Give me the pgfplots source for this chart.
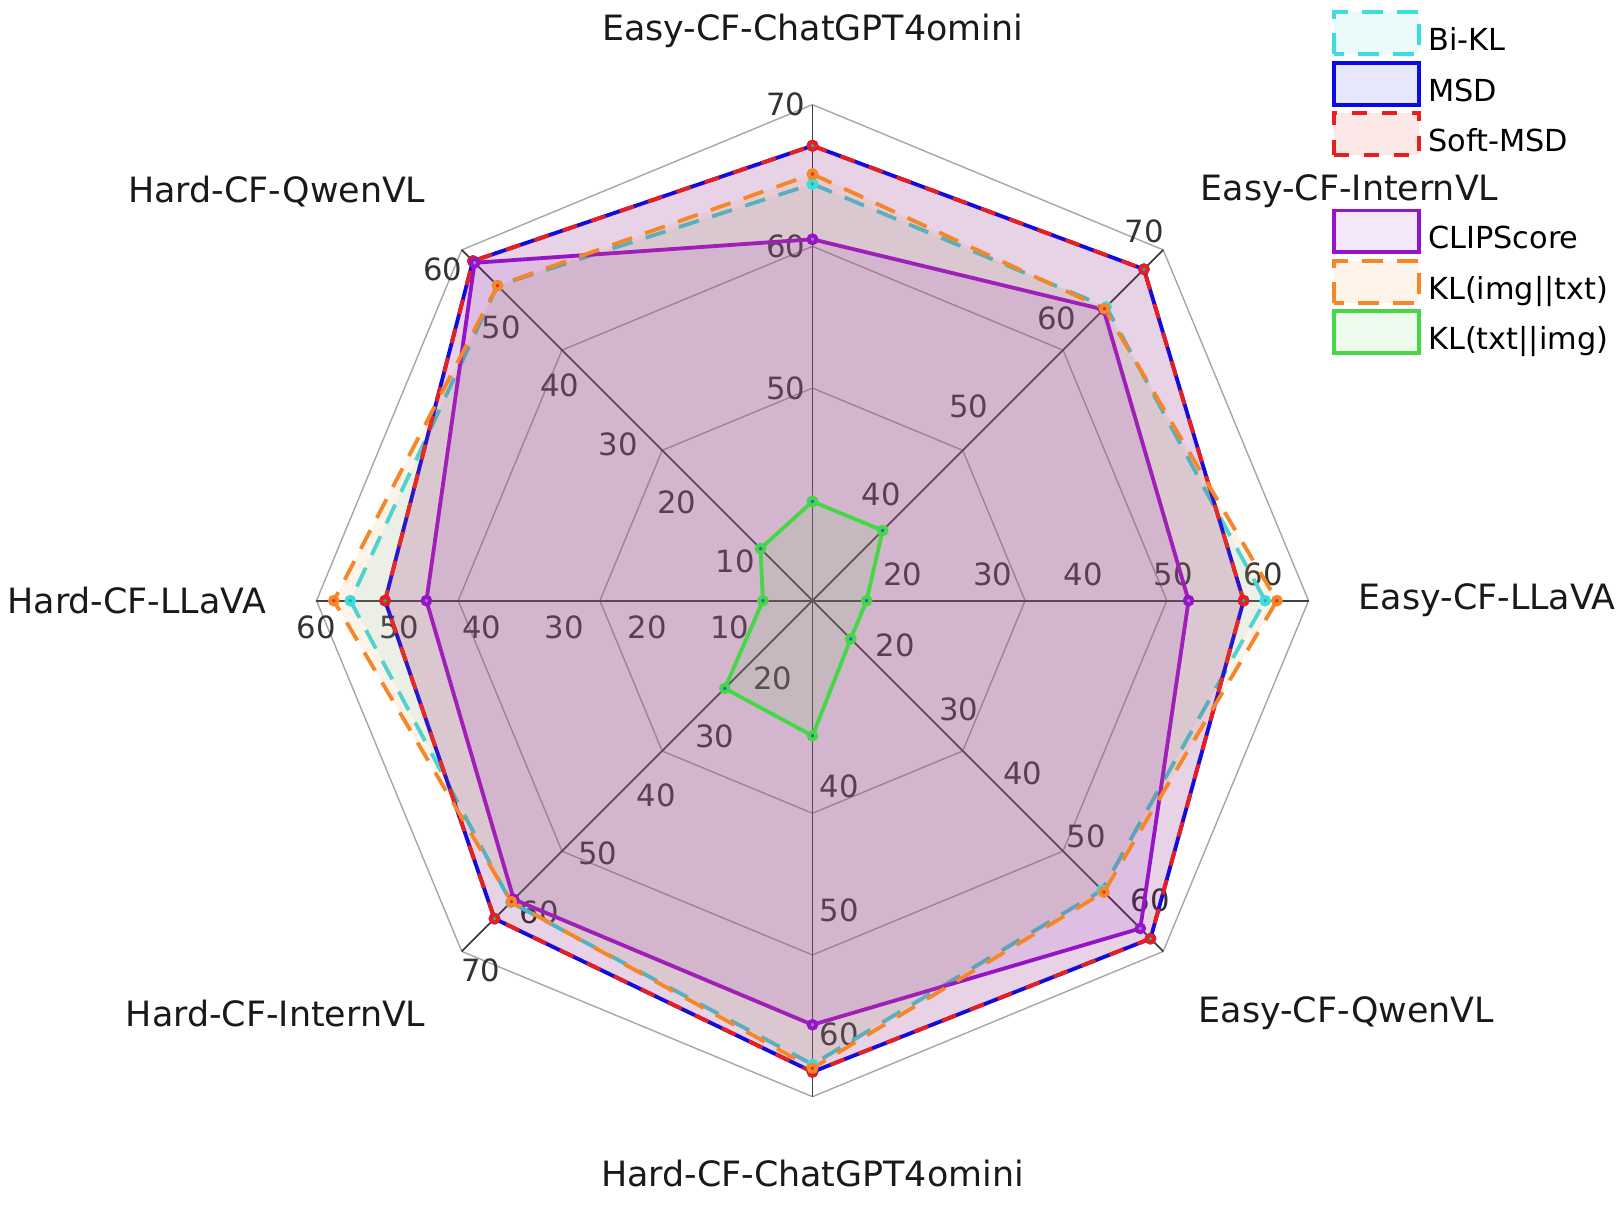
\documentclass[border=0pt]{standalone}
\usepackage{fontspec}
\setmainfont{DejaVu Sans}
\usepackage{pgfplots}
\usepackage{pgfplotstable}
\pgfplotsset{compat=1.18}

\definecolor{cBikl}{RGB}{60,220,225}
\definecolor{cMsd}{RGB}{10,10,230}
\definecolor{cSmsd}{RGB}{235,30,30}
\definecolor{cClip}{RGB}{150,20,200}
\definecolor{cKli}{RGB}{245,135,40}
\definecolor{cKlt}{RGB}{70,215,70}
\definecolor{mBikl}{RGB}{60,175,110}
\definecolor{mMsd}{RGB}{30,175,165}
\definecolor{mClip}{RGB}{160,120,220}
\definecolor{mKli}{RGB}{230,40,40}
\definecolor{mKlt}{RGB}{40,90,230}

% one row per spoke: angle, value at centre, value at rim, then the six methods
\pgfplotstableread{
ang  lo hi bikl msd  smsd clip kli  klt
90   35 70 64.4 67.1 67.1 60.5 65.1 42.0
45   30 70 63.5 67.8 67.8 63.2 63.3 38.0
0    10 65 60.2 57.8 57.8 51.7 61.5 16.0
-45  10 65 55.4 63.0 63.0 61.4 55.7 16.0
-90  25 65 62.4 63.0 63.0 59.2 62.7 35.9
-135 10 70 61.6 64.4 64.4 61.1 61.5 25.0
180  0  60 55.9 51.7 51.7 46.7 57.9 6.0
135  0  60 53.9 58.1 58.1 57.8 53.9 8.9
90   35 70 64.4 67.1 67.1 60.5 65.1 42.0
}\radar

\newcommand{\rx}[1]{cos(\thisrow{ang})*(\thisrow{#1}-\thisrow{lo})/(\thisrow{hi}-\thisrow{lo})}
\newcommand{\ry}[1]{sin(\thisrow{ang})*(\thisrow{#1}-\thisrow{lo})/(\thisrow{hi}-\thisrow{lo})}
% tick label: angle, lo, hi, value
\newcommand{\tl}[4]{\node[ticklab] at (axis cs:{(#4-#2)/(#3-#2)*cos(#1)+0.054*cos(#1+90)},{(#4-#2)/(#3-#2)*sin(#1)+0.054*sin(#1+90)}) {#4};}

\tikzset{
  ticklab/.style={inner sep=0pt, text=black!80, font=\fontsize{8.8}{10}\selectfont},
  catlab/.style={inner sep=0pt, text=black!90, font=\fontsize{10}{12}\selectfont},
  spoke/.style={draw=black!75, line width=0.5pt},
  ring/.style={draw=black!35, line width=0.4pt},
  ser/.style={line width=1.1pt, fill opacity=0.1, mark=*, mark size=1.1pt,
    mark options={solid, draw=none, fill=#1, fill opacity=1, draw opacity=1}},
}

\begin{document}
\begin{tikzpicture}
\path[use as bounding box] (0,0) rectangle (16.34cm,12.185cm);
\begin{axis}[
  at={(0,0)}, anchor=south west,
  x=5cm, y=5cm,
  xmin=-1.638, xmax=1.630, ymin=-1.226, ymax=1.211,
  hide axis, clip=false,
  legend cell align=left,
  legend style={at={(0.8213,0.992)}, anchor=north west, draw=none, fill=none,
    inner sep=0pt, row sep=-0.6pt, font=\fontsize{8.7}{10}\selectfont},
  legend image code/.code={\draw[#1] (0pt,-3.5pt) rectangle (24.5pt,8.5pt);},
]

% grid
\addplot[ring, forget plot] table[x expr={3/7*cos(\thisrow{ang})}, y expr={3/7*sin(\thisrow{ang})}]{\radar};
\addplot[ring, forget plot] table[x expr={5/7*cos(\thisrow{ang})}, y expr={5/7*sin(\thisrow{ang})}]{\radar};
\addplot[ring, forget plot] table[x expr={cos(\thisrow{ang})}, y expr={sin(\thisrow{ang})}]{\radar};
\pgfplotsinvokeforeach{90,45,0,-45,-90,-135,180,135}{
  \draw[spoke] (axis cs:0,0) -- (axis cs:{cos(#1)},{sin(#1)});
}

% tick labels
\pgfplotsinvokeforeach{50,60,70}{\tl{90}{35}{70}{#1}}
\pgfplotsinvokeforeach{40,50,60,70}{\tl{45}{30}{70}{#1}}
\pgfplotsinvokeforeach{20,30,40,50,60}{\tl{0}{10}{65}{#1}}
\pgfplotsinvokeforeach{20,30,40,50,60}{\tl{-45}{10}{65}{#1}}
\pgfplotsinvokeforeach{40,50,60}{\tl{-90}{25}{65}{#1}}
\pgfplotsinvokeforeach{20,30,40,50,60,70}{\tl{-135}{10}{70}{#1}}
\pgfplotsinvokeforeach{10,20,30,40,50,60}{\tl{180}{0}{60}{#1}}
\pgfplotsinvokeforeach{10,20,30,40,50,60}{\tl{135}{0}{60}{#1}}

% series
\addplot[ser=mBikl, draw=cBikl, fill=cBikl, dash pattern=on 6pt off 4pt]
  table[x expr={\rx{bikl}}, y expr={\ry{bikl}}]{\radar};
\addlegendentry{Bi-KL}
\addplot[ser=mMsd, draw=cMsd, fill=cMsd]
  table[x expr={\rx{msd}}, y expr={\ry{msd}}]{\radar};
\addlegendentry{MSD}
\addplot[ser=mMsd, draw=cSmsd, fill=cSmsd, dash pattern=on 4.3pt off 4.3pt]
  table[x expr={\rx{smsd}}, y expr={\ry{smsd}}]{\radar};
\addlegendentry{Soft-MSD}
\addlegendimage{empty legend}
\addlegendentry{\rule[-3.5pt]{0pt}{12pt}}
\addplot[ser=mClip, draw=cClip, fill=cClip]
  table[x expr={\rx{clip}}, y expr={\ry{clip}}]{\radar};
\addlegendentry{CLIPScore}
\addplot[ser=mKli, draw=cKli, fill=cKli, dash pattern=on 6pt off 4pt]
  table[x expr={\rx{kli}}, y expr={\ry{kli}}]{\radar};
\addlegendentry{KL(img||txt)}
\addplot[ser=mKlt, draw=cKlt, fill=cKlt]
  table[x expr={\rx{klt}}, y expr={\ry{klt}}]{\radar};
\addlegendentry{KL(txt||img)}

% category labels
\node[catlab] at (axis cs:0,1.149) {Easy-CF-ChatGPT4omini};
\node[catlab, anchor=west] at (axis cs:0.781,0.825) {Easy-CF-InternVL};
\node[catlab, anchor=west] at (axis cs:1.100,0) {Easy-CF-LLaVA};
\node[catlab, anchor=west] at (axis cs:0.777,-0.832) {Easy-CF-QwenVL};
\node[catlab] at (axis cs:0,-1.155) {Hard-CF-ChatGPT4omini};
\node[catlab, anchor=east] at (axis cs:-0.779,-0.832) {Hard-CF-InternVL};
\node[catlab, anchor=east] at (axis cs:-1.100,0) {Hard-CF-LLaVA};
\node[catlab, anchor=east] at (axis cs:-0.779,0.825) {Hard-CF-QwenVL};
\end{axis}
\end{tikzpicture}
\end{document}
